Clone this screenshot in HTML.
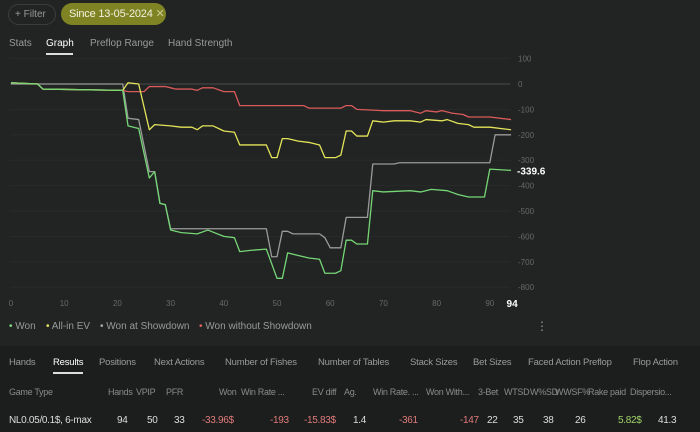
<!DOCTYPE html>
<html><head><meta charset="utf-8">
<style>
*{margin:0;padding:0;box-sizing:border-box}
body{width:700px;height:432px;background:#212423;font-family:"Liberation Sans",sans-serif;overflow:hidden;position:relative;color:#aaa}
.abs{position:absolute;white-space:nowrap}
.filter{left:8px;top:4px;width:48px;height:21px;border:1px solid #3a3d3c;border-radius:11px;font-size:10px;color:#999;padding:4px 0 0 6px}
.since{left:61px;top:3px;width:105px;height:22px;background:#7f8324;border-radius:11px;font-size:11px;color:#f2f2e0;padding:4px 0 0 8px;letter-spacing:-0.2px}
.tab{top:38px;font-size:10px;color:#999}
.bt{top:357px;font-size:9.5px;color:#9a9a9a;letter-spacing:-0.2px}
.hd{top:387px;font-size:9px;color:#8a8a8a;letter-spacing:-0.3px}
.dv{top:415px;font-size:10px;color:#ddd;letter-spacing:-0.3px}
.neg{color:#e07a7a}
.lg{top:321px;font-size:10px;color:#999}
</style></head><body>
<div class="abs filter">+ Filter</div>
<div class="abs since">Since 13-05-2024 <span style="color:#c9cc90">✕</span></div>
<div class="abs tab" style="left:9px">Stats</div>
<div class="abs tab" style="left:46px;color:#fff">Graph</div>
<div class="abs" style="left:46px;top:53px;width:27px;height:2px;background:#ddd"></div>
<div class="abs tab" style="left:90px">Preflop Range</div>
<div class="abs tab" style="left:168px">Hand Strength</div>

<svg id="chart" class="abs" style="left:0;top:0" width="700" height="345"></svg>

<div class="abs lg" style="left:9px"><span style="color:#7fdc7f">•</span> Won</div>
<div class="abs lg" style="left:46px"><span style="color:#e6e660">•</span> All-in EV</div>
<div class="abs lg" style="left:100px"><span style="color:#aaa">•</span> Won at Showdown</div>
<div class="abs lg" style="left:199px"><span style="color:#e06060">•</span> Won without Showdown</div>
<div class="abs" style="left:536px;top:319px;font-size:12px;color:#999">⋮</div>

<div class="abs" style="left:0;top:346px;width:700px;height:86px;background:#1c1e1d"></div>
<div class="abs bt" style="left:9px">Hands</div>
<div class="abs bt" style="left:53px;color:#fff">Results</div>
<div class="abs" style="left:53px;top:372px;width:30px;height:2px;background:#ddd"></div>
<div class="abs bt" style="left:99px">Positions</div>
<div class="abs bt" style="left:154px">Next Actions</div>
<div class="abs bt" style="left:225px">Number of Fishes</div>
<div class="abs bt" style="left:318px">Number of Tables</div>
<div class="abs bt" style="left:410px">Stack Sizes</div>
<div class="abs bt" style="left:473px">Bet Sizes</div>
<div class="abs bt" style="left:528px">Faced Action Preflop</div>
<div class="abs bt" style="left:633px">Flop Action</div>

<div class="abs hd" style="left:9px">Game Type</div>
<div class="abs hd" style="left:108px">Hands</div>
<div class="abs hd" style="left:136px">VPIP</div>
<div class="abs hd" style="left:166px">PFR</div>
<div class="abs hd" style="left:219px">Won</div>
<div class="abs hd" style="left:241px">Win Rate ...</div>
<div class="abs hd" style="left:312px">EV diff</div>
<div class="abs hd" style="left:344px">Ag.</div>
<div class="abs hd" style="left:373px">Win Rate. ...</div>
<div class="abs hd" style="left:426px">Won With...</div>
<div class="abs hd" style="left:478px">3-Bet</div>
<div class="abs hd" style="left:504px">WTSD</div>
<div class="abs hd" style="left:530px">W%SD</div>
<div class="abs hd" style="left:555px">WWSF%</div>
<div class="abs hd" style="left:588px">Rake paid</div>
<div class="abs hd" style="left:630px">Dispersio...</div>

<div class="abs dv" style="left:9px">NL0.05/0.1$, 6-max</div>
<div class="abs dv" style="left:117px">94</div>
<div class="abs dv" style="left:147px">50</div>
<div class="abs dv" style="left:174px">33</div>
<div class="abs dv neg" style="left:202px">-33.96$</div>
<div class="abs dv neg" style="left:270px">-193</div>
<div class="abs dv neg" style="left:304px">-15.83$</div>
<div class="abs dv" style="left:353px">1.4</div>
<div class="abs dv neg" style="left:399px">-361</div>
<div class="abs dv neg" style="left:460px">-147</div>
<div class="abs dv" style="left:487px">22</div>
<div class="abs dv" style="left:513px">35</div>
<div class="abs dv" style="left:543px">38</div>
<div class="abs dv" style="left:575px">26</div>
<div class="abs dv" style="left:618px;color:#9fd36a">5.82$</div>
<div class="abs dv" style="left:658px">41.3</div>

<script>
const yTicks=[100,0,-100,-200,-300,-400,-500,-600,-700,-800];
const xTicks=[0,10,20,30,40,50,60,70,80,90];
const wonHands=[0,5,6,21,22,24,26,27,28,29,30,32,35,37,40,42,43,45,48,50,51,52,54,56,58,59,61,62,63,64,65,67,68,70,75,77,79,82,84,86,89,90,94];
const wonVals=[5,0,-20,-25,-165,-175,-370,-345,-470,-475,-575,-585,-590,-575,-600,-605,-660,-655,-650,-765,-765,-665,-675,-685,-690,-745,-745,-735,-615,-615,-630,-630,-420,-425,-420,-425,-415,-420,-435,-445,-445,-335,-340];
const evHands=[0,5,6,21,22,24,26,27,30,32,34,35,36,38,40,42,43,48,49,50,51,52,54,56,58,59,61,62,63,64,65,67,68,70,72,75,77,78,81,82,84,86,87,90,94];
const evVals=[5,0,-20,-25,5,0,-180,-160,-165,-170,-170,-180,-165,-165,-185,-190,-240,-240,-290,-290,-215,-215,-225,-230,-240,-290,-290,-280,-185,-185,-205,-205,-145,-150,-145,-145,-150,-140,-145,-140,-155,-160,-170,-170,-180];
const sdHands=[0,21,22,24,26,27,28,29,30,48,49,50,51,52,53,58,59,60,62,63,67,68,72,73,90,91,94];
const sdVals=[0,0,-135,-140,-345,-345,-470,-475,-570,-570,-680,-680,-580,-580,-590,-590,-605,-645,-645,-525,-525,-315,-315,-310,-310,-200,-200];
const nsdHands=[0,5,6,21,22,25,26,29,30,31,34,35,36,38,40,42,43,55,56,62,63,64,65,70,75,77,78,80,81,83,85,86,90,94];
const nsdVals=[5,0,-20,-25,-30,-30,-10,-10,-15,-20,-20,-25,-15,-15,-30,-30,-85,-85,-95,-95,-85,-85,-100,-105,-105,-115,-105,-110,-105,-115,-120,-130,-130,-140];
const ns="http://www.w3.org/2000/svg";
const svg=document.getElementById('chart');
const X=h=>11+h*5.32;
const Y=v=>84-v*0.254;
function mk(t,a){const e=document.createElementNS(ns,t);for(const k in a)e.setAttribute(k,a[k]);svg.appendChild(e);return e;}
yTicks.forEach(v=>{
  const l=mk('line',{x1:10,x2:510,y1:Y(v),y2:Y(v),stroke:v===0?'#4a4d4c':'#282b2a','stroke-width':1});
  
  
  const t=mk('text',{x:518,y:Y(v)+3,fill:'#666968','font-size':8,'font-family':'Liberation Sans'});
  t.textContent=v;
  
  
});
xTicks.forEach(h=>{
  const t=mk('text',{x:X(h),y:306,fill:'#666968','font-size':8,'text-anchor':'middle','font-family':'Liberation Sans'});
  t.textContent=h;
  
  
});
const lastT=mk('text',{x:X(94)+1,y:307,fill:'#fff','font-size':10,'font-weight':'bold','text-anchor':'middle','font-family':'Liberation Sans'});
lastT.textContent=wonHands[wonHands.length-1];


function series(hs,vs,col,name){
  const p=mk('polyline',{points:hs.map((h,i)=>X(h)+','+Y(vs[i])).join(' '),fill:'none',stroke:col,'stroke-width':1.3,'stroke-linejoin':'round'});
  
  
}
series(sdHands,sdVals,'#9a9a9a','won-at-showdown-line');
series(nsdHands,nsdVals,'#d95a5a','won-without-showdown-line');
series(evHands,evVals,'#e4e45a','all-in-ev-line');
series(wonHands,wonVals,'#76d676','won-line');
const lv=wonVals[wonVals.length-1];
const lt=mk('text',{x:517,y:Y(lv)+4,fill:'#fff','font-size':10,'font-weight':'bold','font-family':'Liberation Sans'});
lt.textContent=(lv+0.4).toFixed(1);


</script>
</body></html>
